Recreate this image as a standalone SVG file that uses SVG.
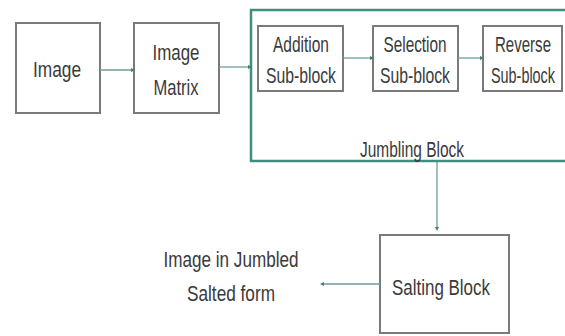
<svg xmlns="http://www.w3.org/2000/svg" width="565" height="336" viewBox="0 0 565 336">
<defs>
<style>
.box{fill:#fff;stroke:#7a7a7a;stroke-width:2}
.jb{fill:none;stroke:#3f8f80;stroke-width:2.5}
.t{font-family:"Liberation Sans",Arial,sans-serif;fill:#3a3a3a;text-anchor:middle;font-size:22px}
.c{fill:none;stroke:#6f9c98;stroke-width:1.3}
</style>
<marker id="dot" viewBox="0 0 6 6" refX="3" refY="3" markerWidth="4" markerHeight="4" markerUnits="userSpaceOnUse" orient="auto">
<path d="M0,0 L6,3 L0,6 Z" fill="#3f7f78"/>
</marker>
</defs>
<rect width="565" height="336" fill="#fff"/>
<g id="jumbling">
<path class="jb" d="M565,10 H251 V161 H565"/>
<text class="t" x="412" y="157" textLength="104" lengthAdjust="spacingAndGlyphs">Jumbling Block</text>
</g>
<g id="image">
<rect class="box" x="16" y="23" width="84" height="90"/>
<text class="t" x="57" y="77" textLength="48" lengthAdjust="spacingAndGlyphs">Image</text>
</g>
<g id="matrix">
<rect class="box" x="134" y="23" width="85" height="90"/>
<text class="t" x="176" y="60" textLength="47" lengthAdjust="spacingAndGlyphs">Image</text>
<text class="t" x="176" y="95" textLength="45" lengthAdjust="spacingAndGlyphs">Matrix</text>
</g>
<g id="addition">
<rect class="box" x="258" y="26" width="85" height="65"/>
<text class="t" x="301" y="52" textLength="56" lengthAdjust="spacingAndGlyphs">Addition</text>
<text class="t" x="301" y="83" textLength="70" lengthAdjust="spacingAndGlyphs">Sub-block</text>
</g>
<g id="selection">
<rect class="box" x="373" y="26" width="85" height="65"/>
<text class="t" x="415" y="52" textLength="63" lengthAdjust="spacingAndGlyphs">Selection</text>
<text class="t" x="415" y="83" textLength="70" lengthAdjust="spacingAndGlyphs">Sub-block</text>
</g>
<g id="reverse">
<rect class="box" x="483" y="26" width="79" height="65"/>
<text class="t" transform="translate(523,52) scale(0.684,1)">Reverse</text>
<text class="t" transform="translate(523,83) scale(0.654,1)">Sub-block</text>
</g>
<g id="salting">
<rect class="box" x="380" y="235" width="129" height="98"/>
<text class="t" x="441" y="295" font-size="26" textLength="98" lengthAdjust="spacingAndGlyphs">Salting Block</text>
</g>
<g id="output">
<text class="t" x="231" y="267" font-size="26" textLength="135" lengthAdjust="spacingAndGlyphs">Image in Jumbled</text>
<text class="t" x="231" y="301" font-size="26" textLength="88" lengthAdjust="spacingAndGlyphs">Salted form</text>
</g>
<g id="connectors">
<path class="c" d="M100,70 H133" marker-end="url(#dot)"/>
<path class="c" d="M219,67 H250" marker-end="url(#dot)"/>
<path class="c" d="M343,58 H372" marker-end="url(#dot)"/>
<path class="c" d="M458,58 H482" marker-end="url(#dot)"/>
<path class="c" d="M437,162 V229" marker-end="url(#dot)"/>
<path class="c" d="M380,284 H322" marker-end="url(#dot)"/>
</g>
</svg>
